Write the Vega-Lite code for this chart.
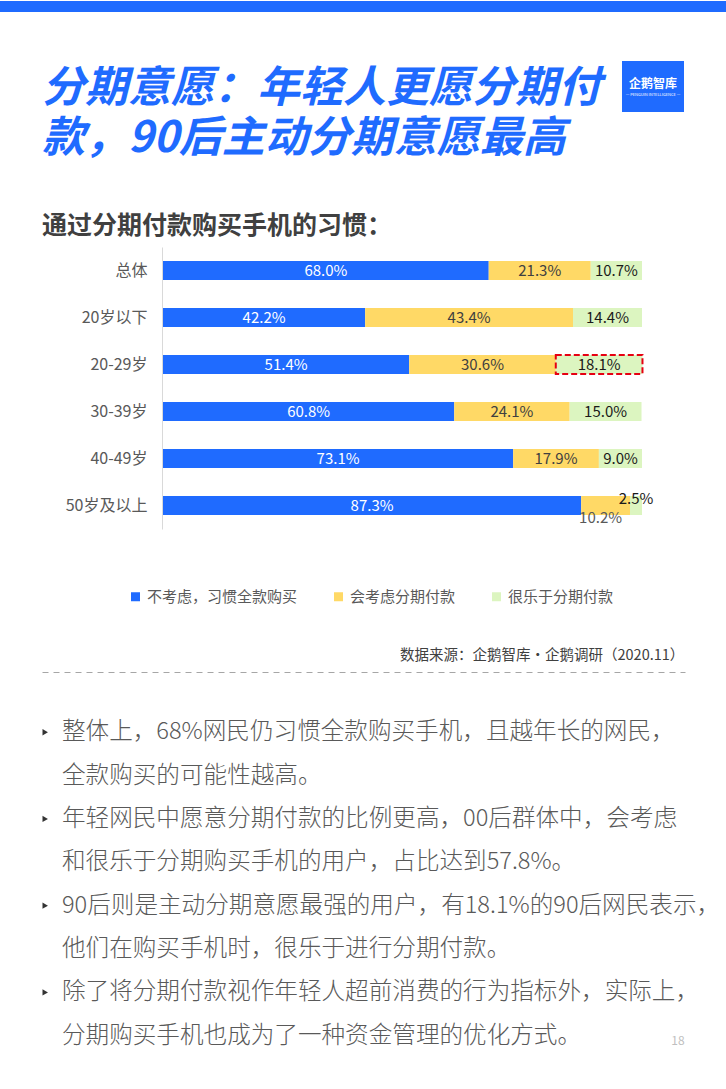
{
  "$schema": "https://vega.github.io/schema/vega-lite/v6.json",
  "padding": 0,
  "background": "#FFFFFF",
  "spacing": 49,
  "config": {
    "font": "Noto Sans CJK SC",
    "view": {"stroke": null},
    "concat": {"spacing": 0}
  },
  "datasets": {
    "strip": [{"t": ""}],
    "headline": [
      {"line": 1, "text": "分期意愿：年轻人更愿分期付"},
      {"line": 2, "text": "款，90后主动分期意愿最高"}
    ],
    "logo": [{"name": "企鹅智库", "en": "— PENGUIN INTELLIGENCE —"}],
    "habits": [
      {"group": "总体", "type": "不考虑，习惯全款购买", "value": 0.680},
      {"group": "总体", "type": "会考虑分期付款", "value": 0.213},
      {"group": "总体", "type": "很乐于分期付款", "value": 0.107},
      {"group": "20岁以下", "type": "不考虑，习惯全款购买", "value": 0.422},
      {"group": "20岁以下", "type": "会考虑分期付款", "value": 0.434},
      {"group": "20岁以下", "type": "很乐于分期付款", "value": 0.144},
      {"group": "20-29岁", "type": "不考虑，习惯全款购买", "value": 0.514},
      {"group": "20-29岁", "type": "会考虑分期付款", "value": 0.306},
      {"group": "20-29岁", "type": "很乐于分期付款", "value": 0.181},
      {"group": "30-39岁", "type": "不考虑，习惯全款购买", "value": 0.608},
      {"group": "30-39岁", "type": "会考虑分期付款", "value": 0.241},
      {"group": "30-39岁", "type": "很乐于分期付款", "value": 0.150},
      {"group": "40-49岁", "type": "不考虑，习惯全款购买", "value": 0.731},
      {"group": "40-49岁", "type": "会考虑分期付款", "value": 0.179},
      {"group": "40-49岁", "type": "很乐于分期付款", "value": 0.090},
      {"group": "50岁及以上", "type": "不考虑，习惯全款购买", "value": 0.873},
      {"group": "50岁及以上", "type": "会考虑分期付款", "value": 0.102},
      {"group": "50岁及以上", "type": "很乐于分期付款", "value": 0.025}
    ],
    "source": [{"text": "数据来源：企鹅智库·企鹅调研（2020.11）"}],
    "notes": [
      {"line": 1, "text": "整体上，68%网民仍习惯全款购买手机，且越年长的网民，"},
      {"line": 2, "text": "全款购买的可能性越高。"},
      {"line": 3, "text": "年轻网民中愿意分期付款的比例更高，00后群体中，会考虑"},
      {"line": 4, "text": "和很乐于分期购买手机的用户，占比达到57.8%。"},
      {"line": 5, "text": "90后则是主动分期意愿最强的用户，有18.1%的90后网民表示，"},
      {"line": 6, "text": "他们在购买手机时，很乐于进行分期付款。"},
      {"line": 7, "text": "除了将分期付款视作年轻人超前消费的行为指标外，实际上，"},
      {"line": 8, "text": "分期购买手机也成为了一种资金管理的优化方式。"}
    ],
    "bullets": [{"line": 1}, {"line": 3}, {"line": 5}, {"line": 7}],
    "page": [{"page": "18"}]
  },
  "vconcat": [
    {
      "width": 726,
      "height": 11,
      "view": {"fill": "#1F6BFF", "stroke": null},
      "data": {"name": "strip"},
      "mark": {"type": "text"},
      "encoding": {"text": {"field": "t"}}
    },
    {
      "spacing": 47,
      "vconcat": [
        {
          "spacing": 12,
          "hconcat": [
            {
              "width": 610,
              "height": 106,
              "data": {"name": "headline"},
              "mark": {"type": "text", "align": "left", "baseline": "middle", "fontSize": 43, "fontWeight": "bold", "fontStyle": "italic", "color": "#1F6BFF"},
              "encoding": {
                "x": {"datum": 0, "type": "quantitative", "scale": {"domain": [0, 1], "range": [42, 610]}, "axis": null},
                "y": {"field": "line", "type": "ordinal", "scale": {"type": "point", "padding": 0.56}, "axis": null},
                "text": {"field": "text"}
              }
            },
            {
              "width": 62,
              "height": 51,
              "view": {"fill": "#1F6BFF", "stroke": null},
              "data": {"name": "logo"},
              "layer": [
                {"mark": {"type": "text", "color": "#FFFFFF", "fontSize": 12, "fontWeight": "bold", "dy": -3}, "encoding": {"text": {"field": "name"}}},
                {"mark": {"type": "text", "color": "#FFFFFF", "fontSize": 4, "dy": 8}, "encoding": {"text": {"field": "en"}}}
              ]
            }
          ]
        },
        {
          "spacing": 110,
          "vconcat": [
            {
              "width": 726,
              "height": 282,
              "title": {"text": "通过分期付款购买手机的习惯：", "anchor": "start", "frame": "group", "dx": 42, "fontSize": 25, "fontWeight": "bold", "color": "#404040", "offset": 8},
              "data": {"name": "habits"},
              "encoding": {
                "y": {
                  "field": "group", "type": "nominal",
                  "sort": ["总体", "20岁以下", "20-29岁", "30-39岁", "40-49岁", "50岁及以上"],
                  "scale": {"paddingInner": 0.596, "paddingOuter": 0.298},
                  "axis": {"title": null, "ticks": false, "labelFontSize": 16, "labelColor": "#595959", "labelPadding": 15, "domainColor": "#D9D9D9", "offset": -162, "grid": false}
                },
                "x": {"field": "value", "type": "quantitative", "stack": "zero", "scale": {"domain": [0, 1], "nice": false, "range": [163, 642]}, "axis": null},
                "order": {"field": "type", "sort": "ascending"}
              },
              "layer": [
                {
                  "mark": {"type": "bar"},
                  "encoding": {
                    "color": {
                      "field": "type", "type": "nominal",
                      "scale": {"domain": ["不考虑，习惯全款购买", "会考虑分期付款", "很乐于分期付款"], "range": ["#1F6BFF", "#FFD966", "#DCF5C0"]},
                      "legend": {"orient": "none", "legendX": 128, "legendY": 588, "direction": "horizontal", "title": null, "symbolType": "square", "symbolSize": 81, "symbolStrokeWidth": 0, "labelFontSize": 15, "labelColor": "#595959", "labelOffset": 4, "columnPadding": 33}
                    }
                  }
                },
                {
                  "mark": {"type": "bar", "fillOpacity": 0, "stroke": "#E60012", "strokeWidth": 2, "strokeDash": [6, 3]},
                  "encoding": {
                    "detail": {"field": "type", "type": "nominal"},
                    "strokeOpacity": {"condition": {"test": "datum.group === '20-29岁' && datum.type === '很乐于分期付款'", "value": 1}, "value": 0}
                  }
                },
                {
                  "mark": {"type": "text", "fontSize": 15, "baseline": "middle"},
                  "encoding": {
                    "x": {"field": "value", "type": "quantitative", "stack": "zero", "bandPosition": 0.5},
                    "detail": {"field": "type", "type": "nominal"},
                    "text": {"condition": {"test": "datum.group === '50岁及以上' && datum.type !== '不考虑，习惯全款购买'", "value": ""}, "field": "value", "type": "quantitative", "format": ".1%"},
                    "color": {"condition": [{"test": "datum.type === '不考虑，习惯全款购买'", "value": "#FFFFFF"}, {"test": "datum.type === '会考虑分期付款'", "value": "#404040"}], "value": "#1A1A1A"}
                  }
                },
                {
                  "mark": {"type": "text", "fontSize": 15, "baseline": "middle", "dx": -5, "dy": 12, "color": "#595959"},
                  "encoding": {
                    "x": {"field": "value", "type": "quantitative", "stack": "zero", "bandPosition": 0.5},
                    "detail": {"field": "type", "type": "nominal"},
                    "text": {"condition": {"test": "datum.group === '50岁及以上' && datum.type === '会考虑分期付款'", "field": "value", "type": "quantitative", "format": ".1%"}, "value": ""}
                  }
                },
                {
                  "mark": {"type": "text", "fontSize": 15, "baseline": "middle", "dy": -7, "color": "#1A1A1A"},
                  "encoding": {
                    "x": {"field": "value", "type": "quantitative", "stack": "zero", "bandPosition": 0.5},
                    "detail": {"field": "type", "type": "nominal"},
                    "text": {"condition": {"test": "datum.group === '50岁及以上' && datum.type === '很乐于分期付款'", "field": "value", "type": "quantitative", "format": ".1%"}, "value": ""}
                  }
                }
              ]
            },
            {
              "spacing": 42,
              "vconcat": [
                {
                  "width": 726,
                  "height": 33,
                  "data": {"name": "source"},
                  "mark": {"type": "text", "align": "right", "baseline": "middle", "fontSize": 14.5, "color": "#404040"},
                  "encoding": {
                    "x": {"datum": 0.999, "type": "quantitative", "scale": {"domain": [0, 1], "range": [42, 685]}, "axis": {"domain": true, "domainColor": "#A6A6A6", "domainDash": [6, 5], "domainWidth": 1, "ticks": false, "labels": false, "grid": false, "title": null}},
                    "text": {"field": "text"}
                  }
                },
                {
                  "width": 726,
                  "height": 340,
                  "layer": [
                    {
                      "data": {"name": "notes"},
                      "mark": {"type": "text", "align": "left", "baseline": "middle", "fontSize": 23.6, "fontWeight": 300, "color": "#595959"},
                      "encoding": {
                        "x": {"datum": 0.0311, "type": "quantitative", "scale": {"domain": [0, 1], "range": [42, 685]}, "axis": {"domain": true, "domainColor": "#A6A6A6", "domainWidth": 1, "ticks": false, "labels": false, "grid": false, "title": null}},
                        "y": {"field": "line", "type": "ordinal", "scale": {"type": "point", "padding": 0.42}, "axis": null},
                        "text": {"field": "text"}
                      }
                    },
                    {
                      "data": {"name": "bullets"},
                      "mark": {"type": "point", "shape": "triangle-right", "filled": true, "size": 40, "color": "#333333", "opacity": 1},
                      "encoding": {
                        "x": {"datum": 0.005, "type": "quantitative"},
                        "y": {"field": "line", "type": "ordinal"}
                      }
                    },
                    {
                      "data": {"name": "page"},
                      "mark": {"type": "text", "fontSize": 12, "color": "#BFBFBF", "dy": 5},
                      "encoding": {
                        "x": {"datum": 0.989, "type": "quantitative"},
                        "y": {"datum": 8, "type": "ordinal"},
                        "text": {"field": "page"}
                      }
                    }
                  ]
                }
              ]
            }
          ]
        }
      ]
    }
  ]
}
